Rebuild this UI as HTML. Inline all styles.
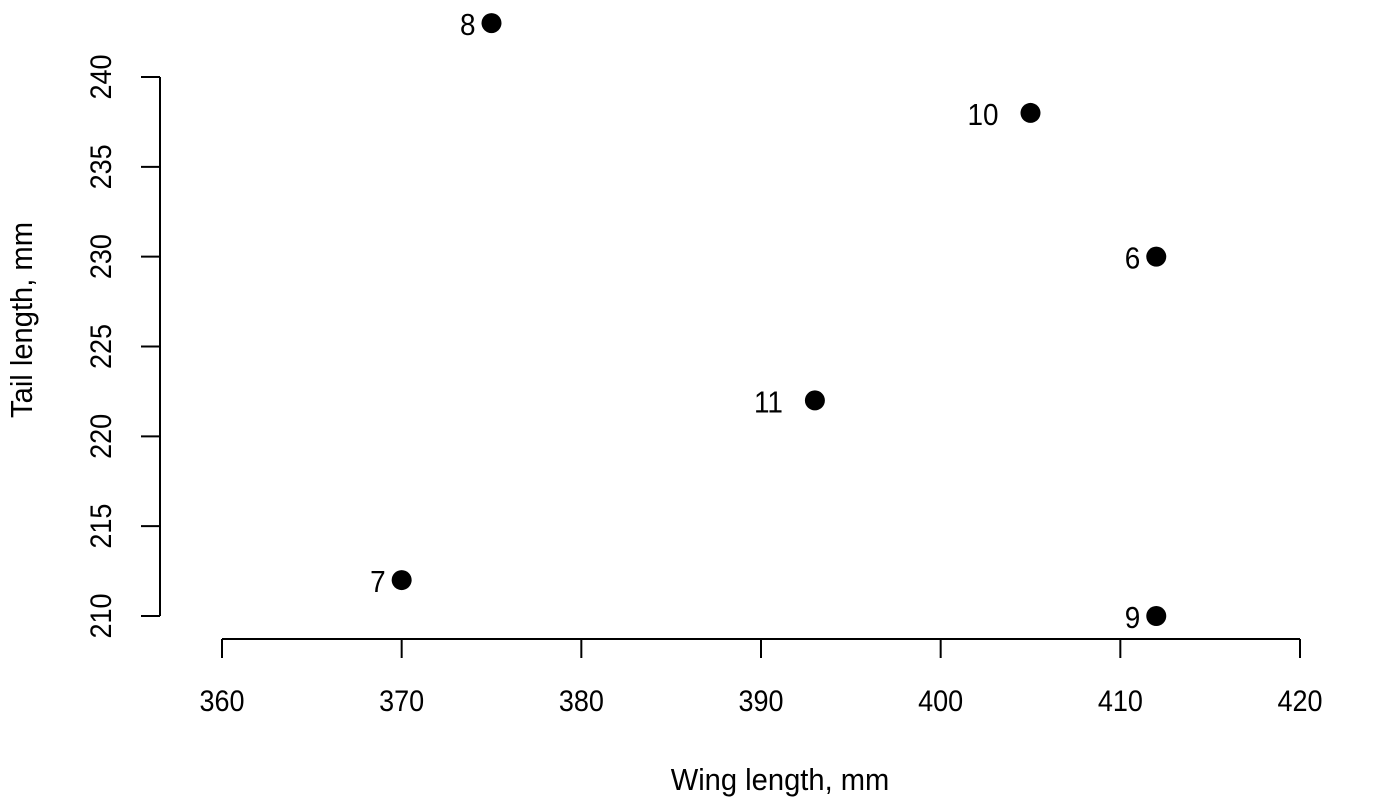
<!DOCTYPE html>
<html><head><meta charset="utf-8"><style>
html,body{margin:0;padding:0;background:#fff;}
svg{display:block;}
text{font-family:"Liberation Sans Narrow","Liberation Sans",sans-serif;fill:#000;}
</style></head><body>
<svg id="chart" width="1400" height="800">
<g id="axes"></g>
<g id="marks"></g>
<text transform="translate(780,790) scale(0.94,1)" font-size="31" text-anchor="middle">Wing length, mm</text>
<text transform="translate(32,320) rotate(-90) scale(0.94,1)" font-size="31" text-anchor="middle">Tail length, mm</text>
</svg>
<script>
const wing = [375, 405, 412, 393, 370, 412];
const tail = [243, 238, 230, 222, 212, 210];
const ids = ["8", "10", "6", "11", "7", "9"];
const xTicks = [360, 370, 380, 390, 400, 410, 420];
const yTicks = [210, 215, 220, 225, 230, 235, 240];

const NS = "http://www.w3.org/2000/svg";
function sx(v){ return 222 + (v - 360) * (1078 / 60); }
function sy(v){ return 616 - (v - 210) * (539 / 30); }
function mk(tag, attrs, parent){
  const e = document.createElementNS(NS, tag);
  for (const k in attrs) e.setAttribute(k, attrs[k]);
  parent.appendChild(e);
  return e;
}
const axes = document.getElementById('axes');
const marks = document.getElementById('marks');
const st = {stroke:'#000','stroke-width':2};

let xl = mk('line', Object.assign({x1:sx(xTicks[0]),x2:sx(xTicks[xTicks.length-1]),y1:639,y2:639}, st), axes);


xTicks.forEach(t => {
  const l = mk('line', Object.assign({x1:sx(t),x2:sx(t),y1:639,y2:658}, st), axes);
  
  
  const tx = mk('text', {transform:'translate('+sx(t)+',711) scale(0.9,1)', 'font-size':30, 'text-anchor':'middle'}, axes);
  tx.textContent = t;
  
  
});

let yl = mk('line', Object.assign({x1:160,x2:160,y1:sy(yTicks[0]),y2:sy(yTicks[yTicks.length-1])}, st), axes);


yTicks.forEach(t => {
  const l = mk('line', Object.assign({x1:141,x2:160,y1:sy(t),y2:sy(t)}, st), axes);
  
  
  const tx = mk('text', {transform:'translate(111,'+sy(t)+') rotate(-90) scale(0.9,1)', 'font-size':30, 'text-anchor':'middle'}, axes);
  tx.textContent = t;
  
  
});

wing.forEach((w, i) => {
  const c = mk('circle', {cx:sx(w), cy:sy(tail[i]), r:10, fill:'#000'}, marks);
  
  
  const gap = 16 * ids[i].length;
  const t = mk('text', {transform:'translate('+(sx(w)-gap)+','+(sy(tail[i])+12)+') scale(0.9,1)', 'font-size':31, 'text-anchor':'end'}, marks);
  t.textContent = ids[i];
  
  
});
</script>
</body></html>
